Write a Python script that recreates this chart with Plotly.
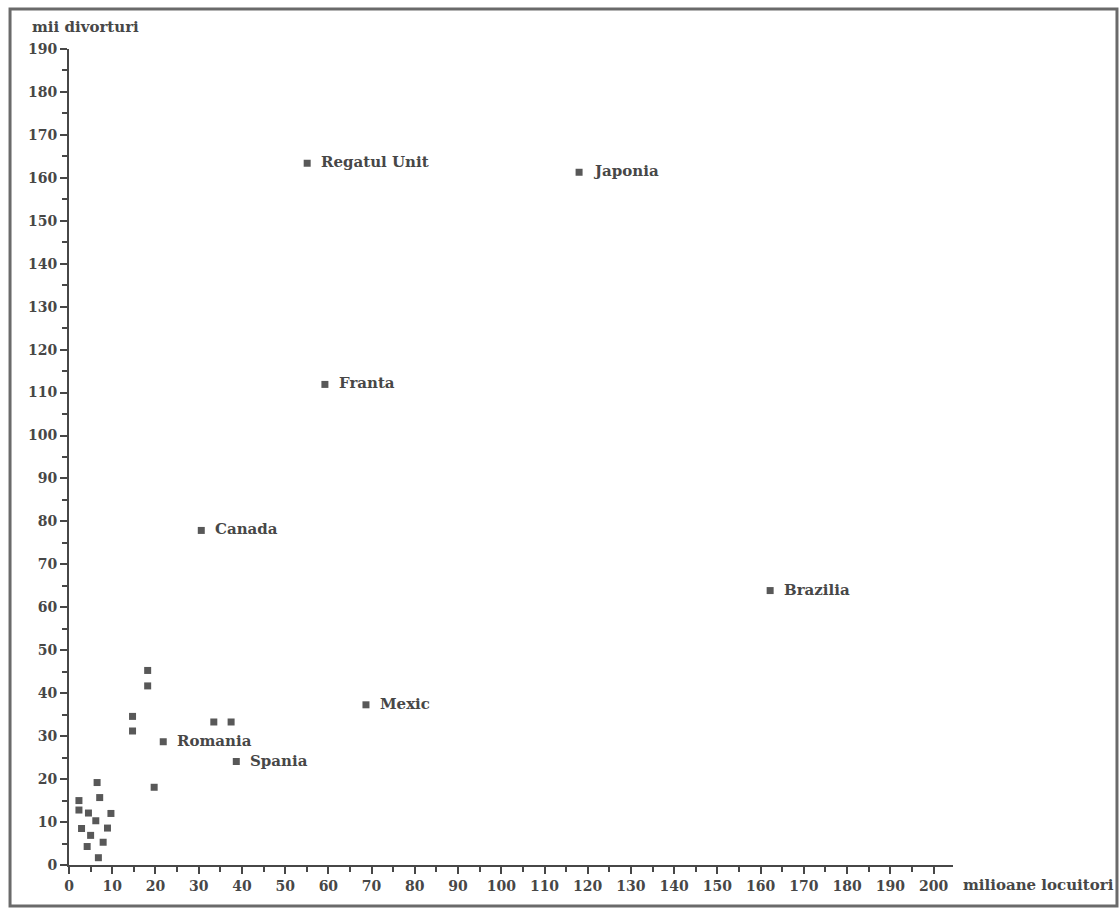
import plotly.graph_objects as go

# Labelled countries: population (milioane locuitori), divorces (mii divorturi)
countries = ["Regatul Unit", "Japonia", "Franta", "Canada", "Brazilia", "Mexic", "Romania", "Spania"]
country_pop = [55.1, 118.0, 59.2, 30.6, 162.2, 68.7, 21.8, 38.7]
country_div = [163.4, 161.3, 111.9, 77.9, 63.9, 37.3, 28.7, 24.1]

# Unlabelled countries
other_pop = [2.3, 2.3, 4.5, 2.9, 5.0, 4.2, 6.2, 6.5, 7.1, 6.8, 7.9, 8.9, 9.7,
             14.7, 14.7, 18.2, 18.2, 19.7, 33.5, 37.5]
other_div = [15.0, 12.8, 12.1, 8.5, 6.9, 4.3, 10.3, 19.2, 15.7, 1.7, 5.3, 8.6, 12.0,
             34.6, 31.2, 45.3, 41.7, 18.1, 33.3, 33.3]

x_ticks = list(range(0, 201, 10))
y_ticks = list(range(0, 191, 10))

FONT = "DejaVu Serif"
INK = "#474747"
MARK = "#585858"

fig = go.Figure()
fig.add_trace(go.Scatter(
    x=other_pop + country_pop, y=other_div + country_div, mode="markers",
    marker=dict(symbol="square", size=7, color=MARK),
    showlegend=False, hoverinfo="skip"))

for name, xv, yv in zip(countries, country_pop, country_div):
    fig.add_annotation(x=xv, y=yv, text=name, showarrow=False, xanchor="left",
                       yanchor="middle", xshift=12, yshift=1,
                       font=dict(family=FONT, size=15, color=INK, weight="bold"))

axis_common = dict(showgrid=False, zeroline=False, showline=True, linecolor=INK, linewidth=2,
                   ticks="outside", tickcolor=INK, tickwidth=2, ticklen=7,
                   tickfont=dict(family=FONT, size=14, color=INK, weight="bold"),
                   minor=dict(ticks="outside", ticklen=5, tickcolor=INK, tickwidth=2, dtick=5))

fig.update_xaxes(range=[0, 204.5], tickvals=x_ticks, ticktext=[str(v) for v in x_ticks],
                 **axis_common)
fig.update_yaxes(range=[0, 190], tickvals=y_ticks, ticktext=[str(v) for v in y_ticks],
                 ticklabelstandoff=0, **axis_common)

fig.add_annotation(xref="paper", yref="paper", x=-0.044, y=1.0, yshift=22, text="mii divorturi",
                   showarrow=False, xanchor="left", yanchor="middle",
                   font=dict(family=FONT, size=15, color=INK, weight="bold"))
fig.add_annotation(xref="paper", yref="paper", x=1.0, y=0, xshift=8, yshift=-20,
                   text="milioane locuitori", showarrow=False, xanchor="left", yanchor="middle",
                   font=dict(family=FONT, size=15, color=INK, weight="bold"))

# outer frame
fig.add_shape(type="rect", xref="paper", yref="paper", x0=-0.0667, x1=1.1855, y0=-0.0503, y1=1.0490,
              line=dict(color="#6a6a6a", width=3), layer="below")

fig.update_layout(width=1119, height=908,
                  margin=dict(l=69, r=166, t=49, b=43, autoexpand=False),
                  plot_bgcolor="white", paper_bgcolor="white",
                  font=dict(family=FONT, color=INK))

fig.write_html("out.html", config={"displayModeBar": False},
               post_script="document.body.style.margin='0';")
